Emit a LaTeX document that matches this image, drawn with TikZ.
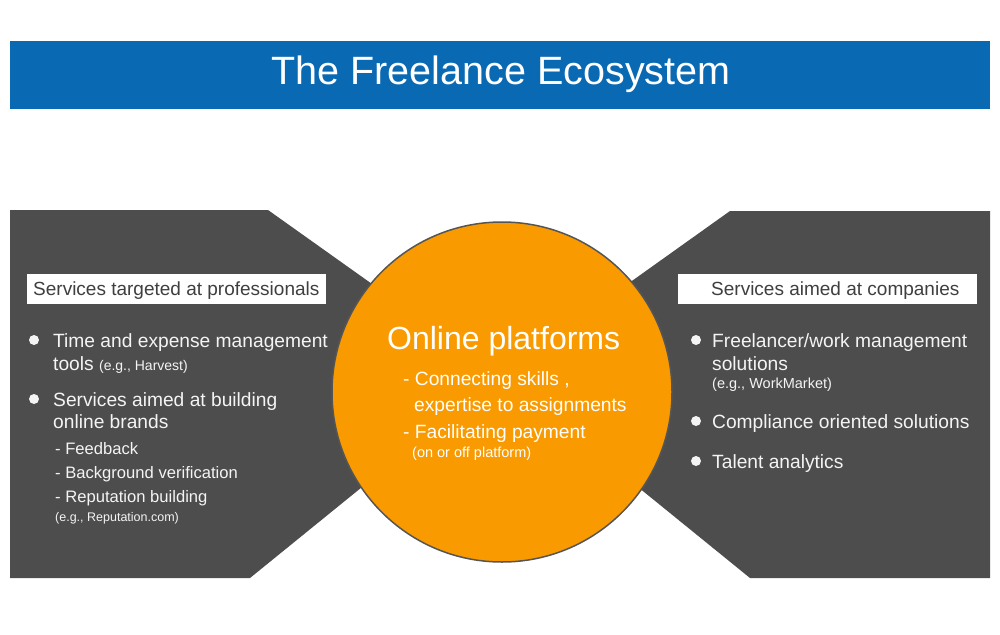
\documentclass[tikz,border=0pt]{standalone}
\usepackage{fontspec}
\setmainfont{Liberation Sans}
\definecolor{titleblue}{HTML}{0A69B3}
\definecolor{panelgray}{HTML}{4D4D4D}
\definecolor{circorange}{HTML}{F99A00}
\definecolor{circline}{HTML}{555555}
\definecolor{txtwhite}{HTML}{F4F4F4}
\definecolor{labeltxt}{HTML}{3F3F3F}
\tikzset{
  panel/.style={fill=panelgray, draw=none},
  label/.style={fill=white, inner sep=0pt, anchor=north west},
  main/.style={anchor=base west, inner sep=0pt, text=txtwhite, font=\fontsize{19.2}{22}\selectfont},
  sub/.style={anchor=base west, inner sep=0pt, text=txtwhite, font=\fontsize{16.6}{19}\selectfont},
  small/.style={anchor=base west, inner sep=0pt, text=txtwhite, font=\fontsize{14.5}{16}\selectfont},
  bullet/.style={circle, fill=txtwhite, inner sep=0pt, minimum size=10pt},
}
\begin{document}
\begin{tikzpicture}[x=1pt,y=-1pt]
\useasboundingbox (0,0) rectangle (1000,634);
% title
\node[fill=titleblue, minimum width=980pt, minimum height=68pt, inner sep=0pt, anchor=north west] (title) at (10,41) {};
\node[text=white, font=\fontsize{39.5}{44}\selectfont, inner sep=0pt] (titletext) at (501,74) {The Freelance Ecosystem};
% panels
\fill[panel] (10,210) -- (268,210) -- (500,375) -- (250,578) -- (10,578) -- cycle;
\fill[panel] (990,211) -- (730,211) -- (500,375) -- (750,578) -- (990,578) -- cycle;
% circle
\node[circle, fill=circorange, draw=circline, line width=1.5pt, minimum size=340pt, inner sep=0pt] (hub) at (502,392) {};
% labels
\node[label, minimum width=299pt, minimum height=30pt] (lbox) at (27,274) {};
\node[anchor=base west, inner sep=0pt, text=labeltxt, font=\fontsize{19}{22}\selectfont] (ltxt) at (33,295) {Services targeted at professionals};
\node[label, minimum width=299pt, minimum height=30pt] (rbox) at (678,274) {};
\node[anchor=base west, inner sep=0pt, text=labeltxt, font=\fontsize{19}{22}\selectfont] (rtxt) at (711,295) {Services aimed at companies};
% left bullets
\node[bullet] (lb1) at (34,340) {};
\node[bullet] (lb2) at (34,399) {};
\node[main] (l1) at (53,347) {Time and expense management};
\node[main] (l2) at (53,370) {tools {\fontsize{14}{16}\selectfont(e.g., Harvest)}};
\node[main] (l3) at (53,406) {Services aimed at building};
\node[main] (l4) at (53,428) {online brands};
\node[sub] (l5) at (55,454) {- Feedback};
\node[sub] (l6) at (55,478) {- Background verification};
\node[sub] (l7) at (55,502) {- Reputation building};
\node[small, font=\fontsize{12.5}{15}\selectfont] (l8) at (55,521) {(e.g., Reputation.com)};
% right bullets
\node[bullet] (rb1) at (696,340) {};
\node[bullet] (rb2) at (696,421) {};
\node[bullet] (rb3) at (696,461) {};
\node[main] (r1) at (712,347) {Freelancer/work management};
\node[main] (r2) at (712,370) {solutions};
\node[small] (r3) at (712,388) {(e.g., WorkMarket)};
\node[main] (r4) at (712,428) {Compliance oriented solutions};
\node[main] (r5) at (712,468) {Talent analytics};
% center
\node[anchor=base west, inner sep=0pt, text=white, font=\fontsize{32}{36}\selectfont] (c0) at (387,349) {Online platforms};
\node[main, text=white] (c1) at (403,385) {- Connecting skills ,};
\node[main, text=white] (c2) at (414,411) {expertise to assignments};
\node[main, text=white] (c3) at (403,438) {- Facilitating payment};
\node[small, text=white] (c4) at (412,457) {(on or off platform)};
\end{tikzpicture}
\end{document}
